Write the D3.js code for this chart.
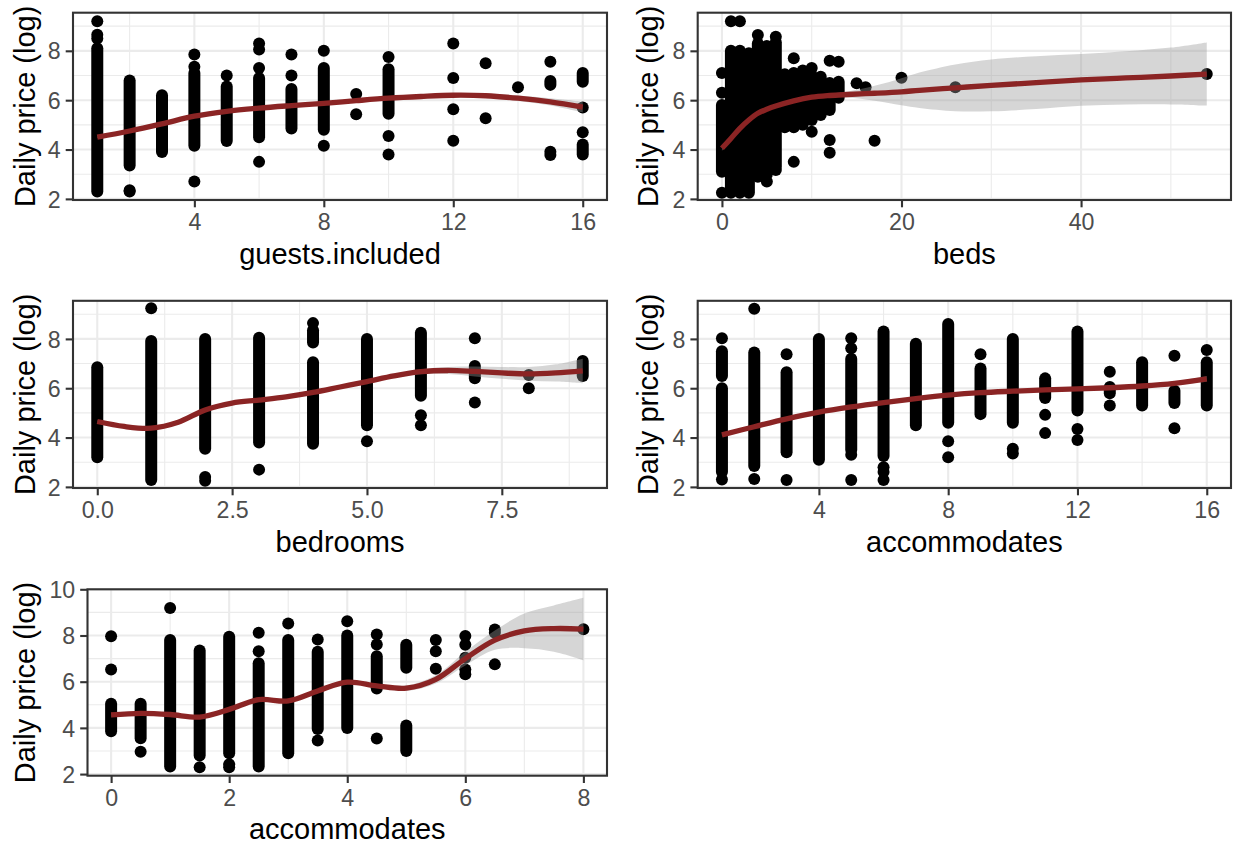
<!DOCTYPE html>
<html><head><meta charset="utf-8">
<script src="https://cdn.jsdelivr.net/npm/d3@7"></script>
<style>body{margin:0;background:#fff}svg{display:block}</style>
</head><body><svg id="c" width="1235" height="845"></svg>
<script>
// ---------- DATA ----------
// runs: [x, low, high] = dense stacks of overlapping points; dots: [x, y] single points
// Panel 1: guests.included
const guestsRuns = [[1,2.3,8.1],[2,3.35,6.8],[3,3.9,6.2],[4,4.15,7.1],[5,4.35,6.55],[6,4.5,6.9],[7,4.85,6.45],[8,4.8,7.3],[10,5.45,7.25],[15,6.62,6.78],[16,6.75,7.1],[16,3.8,4.2]];
const guestsDots = [[1,8.5],[1,8.65],[1,9.2],[2,2.35],[2,2.3],[4,7.85],[4,7.35],[4,2.7],[5,7.0],[6,8.3],[6,8.05],[6,7.3],[6,3.5],[7,7.85],[7,7.0],[8,8.0],[8,4.15],[9,6.25],[9,5.43],[10,7.75],[10,4.55],[10,3.8],[12,8.3],[12,6.9],[12,5.63],[12,4.36],[13,7.5],[13,5.27],[14,6.52],[15,7.56],[15,3.91],[15,3.78],[16,5.7],[16,4.7]];
const guestsFitX = [1,2,3,4,5,6,7,8,9,10,11,12,13,14,15,16];
const guestsFitY = [4.5,4.75,5.04,5.35,5.55,5.68,5.78,5.87,5.98,6.08,6.15,6.2,6.18,6.08,5.93,5.72];
const guestsFitBand = [0.04,0.03,0.03,0.03,0.03,0.03,0.03,0.04,0.05,0.06,0.07,0.08,0.09,0.11,0.15,0.22];

// Panel 2: beds
const bedsRuns = [[0,3.1,5.8],[1,2.25,8.0],[2,2.25,8.0],[3,2.25,7.9],[4,2.9,8.3],[5,3.0,8.2],[6,3.3,8.35],[7,4.9,7.05],[8,4.9,7.1],[9,5.0,7.2],[10,5.2,7.0],[11,5.4,6.95],[12,5.6,6.7],[13,6.1,6.75]];
const bedsDots = [[0,6.3],[0,7.1],[0,2.25],[1,9.2],[2,9.2],[4,8.64],[5,2.7],[6,8.57],[6,3.17],[8,7.7],[8,3.5],[10,7.3],[10,4.72],[12,7.6],[12,4.39],[12,3.87],[13,7.56],[15,6.69],[16,6.52],[17,4.36],[20,6.91],[26,6.52],[54,7.06]];
const bedsFitX = [0,1,2,3,4,5,6,8,10,12,14,17,20,22,26,30,35,40,45,50,54];
const bedsFitY = [4.05,4.45,4.86,5.2,5.47,5.63,5.76,5.97,6.12,6.19,6.23,6.28,6.34,6.4,6.5,6.6,6.71,6.82,6.9,6.98,7.06];
const bedsFitBand = [0.1,0.08,0.06,0.05,0.05,0.05,0.05,0.05,0.05,0.07,0.12,0.3,0.55,0.72,0.95,1.05,1.07,1.05,1.08,1.15,1.28];

// Panel 3: bedrooms
const bedroomsRuns = [[0,3.2,6.85],[1,2.28,7.92],[2,3.55,8.0],[3,3.8,8.05],[4,3.75,7.05],[4,7.85,8.35],[5,4.5,8.0],[6,5.7,8.25],[7,6.4,6.9],[9,6.5,7.1]];
const bedroomsDots = [[1,9.24],[2,2.4],[2,2.25],[3,2.7],[4,8.64],[5,3.85],[6,4.9],[6,4.5],[7,8.03],[7,5.42],[8,6.54],[8,6.0]];
const bedroomsFitX = [0,0.5,1,1.5,2,2.5,3,3.5,4,4.5,5,5.5,6,6.5,7,7.5,8,8.5,9];
const bedroomsFitY = [4.65,4.45,4.38,4.62,5.12,5.4,5.52,5.65,5.83,6.05,6.27,6.5,6.67,6.72,6.68,6.62,6.58,6.62,6.7];
const bedroomsFitBand = [0.05,0.04,0.03,0.04,0.04,0.04,0.04,0.04,0.04,0.04,0.05,0.07,0.1,0.14,0.2,0.24,0.28,0.35,0.5];

// Panel 4: accommodates (1..16)
const accomRuns = [[1,2.6,6.0],[1,6.5,7.5],[2,2.85,7.45],[3,3.4,6.65],[4,3.1,8.0],[5,3.5,7.2],[6,3.25,8.3],[7,4.5,7.8],[8,4.6,8.6],[9,4.95,6.8],[10,4.6,8.0],[11,5.6,6.4],[12,5.1,8.3],[13,5.8,6.05],[14,5.3,7.05],[15,5.4,5.9],[16,5.3,7.05]];
const accomDots = [[1,8.03],[1,2.3],[2,9.22],[2,2.32],[3,7.38],[3,2.28],[5,8.03],[5,7.62],[5,3.3],[5,2.28],[6,2.8],[6,2.6],[6,2.28],[8,3.85],[8,3.2],[9,7.38],[10,3.55],[10,3.35],[11,4.92],[11,4.18],[12,4.35],[12,3.9],[13,6.67],[13,5.3],[15,7.32],[15,4.38],[16,7.55]];
const accomFitX = [1,2,3,4,5,6,7,8,9,10,11,12,13,14,15,16];
const accomFitY = [4.11,4.44,4.76,5.03,5.24,5.42,5.58,5.72,5.82,5.88,5.93,5.97,6.02,6.09,6.2,6.38];
const accomFitBand = [0.06,0.04,0.03,0.03,0.03,0.03,0.03,0.03,0.03,0.04,0.04,0.04,0.05,0.06,0.08,0.12];

// Panel 5: accommodates (0..8)
const accom2Runs = [[0,3.85,5.05],[0.5,3.55,5.05],[1,2.33,7.8],[1.5,2.8,7.35],[2,2.9,7.95],[2.5,2.33,6.8],[3,2.9,7.8],[3.5,3.95,7.3],[4,4.0,8.0],[4.5,5.7,7.1],[5,3.0,4.1],[5,6.6,7.6]];
const accom2Dots = [[0,7.97],[0,6.53],[0.5,2.97],[1,9.19],[1.5,2.3],[2,2.43],[2,2.3],[2.5,8.12],[2.5,7.32],[3,8.52],[3.5,7.83],[3.5,3.45],[4,8.62],[4.5,8.04],[4.5,7.61],[4.5,3.54],[5.5,7.8],[5.5,7.32],[5.5,6.56],[6,7.98],[6,7.6],[6,7.04],[6,6.53],[6,6.32],[6.5,8.26],[6.5,8.12],[6.5,6.75],[8,8.27]];
const accom2FitX = [0,0.5,1,1.5,2,2.5,3,3.5,4,4.5,5,5.5,6,6.5,7,7.5,8];
const accom2FitY = [4.56,4.63,4.58,4.47,4.8,5.22,5.17,5.6,5.98,5.82,5.72,6.1,7.0,7.8,8.2,8.3,8.28];
const accom2FitBand = [0.1,0.06,0.04,0.04,0.04,0.04,0.04,0.05,0.06,0.08,0.12,0.18,0.3,0.42,0.75,1.0,1.35];

// Ticks
const yBreaks = [2,4,6,8];
const yMinor = [3,5,7,9];
const yBreaks5 = [2,4,6,8,10];
const yMinor5 = [3,5,7,9];
const guestsXBreaks = [4,8,12,16], guestsXMinor = [2,6,10,14];
const bedsXBreaks = [0,20,40], bedsXMinor = [10,30,50];
const bedroomsXBreaks = [0,2.5,5,7.5], bedroomsXMinor = [1.25,3.75,6.25,8.75];
const accomXBreaks = [4,8,12,16], accomXMinor = [2,6,10,14];
const accom2XBreaks = [0,2,4,6,8], accom2XMinor = [1,3,5,7];
const yTitle = "Daily price (log)";

// ---------- DRAW ----------
const FONT = "'Liberation Sans', Arial, Helvetica, sans-serif";
const R = 6;
const svg = d3.select("#c");
svg.append("rect").attr("width",1235).attr("height",845).attr("fill","#fff");

const panels = [
  {runs:guestsRuns, dots:guestsDots, fx:guestsFitX, fy:guestsFitY, band:guestsFitBand, xlab:"guests.included",
   xDomain:[0.25,16.75], yDomain:[1.955,9.545], xB:guestsXBreaks, xM:guestsXMinor, yB:yBreaks, yM:yMinor,
   box:{l:73,r:607,t:12.7,b:200}, yTitleX:34.5, fmt:d3.format("d")},
  {runs:bedsRuns, dots:bedsDots, fx:bedsFitX, fy:bedsFitY, band:bedsFitBand, xlab:"beds",
   xDomain:[-2.7,56.7], yDomain:[1.955,9.545], xB:bedsXBreaks, xM:bedsXMinor, yB:yBreaks, yM:yMinor,
   box:{l:697.7,r:1231,t:12.7,b:200}, yTitleX:658, fmt:d3.format("d")},
  {runs:bedroomsRuns, dots:bedroomsDots, fx:bedroomsFitX, fy:bedroomsFitY, band:bedroomsFitBand, xlab:"bedrooms",
   xDomain:[-0.45,9.45], yDomain:[1.955,9.545], xB:bedroomsXBreaks, xM:bedroomsXMinor, yB:yBreaks, yM:yMinor,
   box:{l:73,r:607,t:300.8,b:488}, yTitleX:34.5, fmt:d3.format(".1f")},
  {runs:accomRuns, dots:accomDots, fx:accomFitX, fy:accomFitY, band:accomFitBand, xlab:"accommodates",
   xDomain:[0.25,16.75], yDomain:[1.955,9.545], xB:accomXBreaks, xM:accomXMinor, yB:yBreaks, yM:yMinor,
   box:{l:697.7,r:1231,t:300.8,b:488}, yTitleX:658, fmt:d3.format("d")},
  {runs:accom2Runs, dots:accom2Dots, fx:accom2FitX, fy:accom2FitY, band:accom2FitBand, xlab:"accommodates",
   xDomain:[-0.4,8.4], yDomain:[1.93,10.0], xB:accom2XBreaks, xM:accom2XMinor, yB:yBreaks5, yM:yMinor5,
   box:{l:87.5,r:607,t:589.3,b:775.7}, yTitleX:34.5, fmt:d3.format("d")}
];

function drawPanel(p){
  const b = p.box;
  const x = d3.scaleLinear().domain(p.xDomain).range([b.l,b.r]);
  const y = d3.scaleLinear().domain(p.yDomain).range([b.b,b.t]);
  const g = svg.append("g");
  const clipId = "clip"+Math.round(b.l)+"_"+Math.round(b.t);
  g.append("clipPath").attr("id",clipId).append("rect")
    .attr("x",b.l).attr("y",b.t).attr("width",b.r-b.l).attr("height",b.b-b.t);
  const grid = g.append("g");
  grid.selectAll(null).data(p.xM).enter().append("line")
    .attr("x1",d=>x(d)).attr("x2",d=>x(d)).attr("y1",b.t).attr("y2",b.b)
    .attr("stroke","#EBEBEB").attr("stroke-width",1.1);
  grid.selectAll(null).data(p.yM).enter().append("line")
    .attr("y1",d=>y(d)).attr("y2",d=>y(d)).attr("x1",b.l).attr("x2",b.r)
    .attr("stroke","#EBEBEB").attr("stroke-width",1.1);
  grid.selectAll(null).data(p.xB).enter().append("line")
    .attr("x1",d=>x(d)).attr("x2",d=>x(d)).attr("y1",b.t).attr("y2",b.b)
    .attr("stroke","#EBEBEB").attr("stroke-width",2.1);
  grid.selectAll(null).data(p.yB.filter(v=>v>=p.yDomain[0]&&v<=p.yDomain[1])).enter().append("line")
    .attr("y1",d=>y(d)).attr("y2",d=>y(d)).attr("x1",b.l).attr("x2",b.r)
    .attr("stroke","#EBEBEB").attr("stroke-width",2.1);

  const marks = g.append("g").attr("clip-path","url(#"+clipId+")");
  marks.selectAll(null).data(p.runs).enter().append("rect")
    .attr("x",d=>x(d[0])-R).attr("width",2*R)
    .attr("y",d=>y(d[2])-R).attr("height",d=>y(d[1])-y(d[2])+2*R)
    .attr("rx",R).attr("ry",R).attr("fill","#000");
  marks.selectAll(null).data(p.dots).enter().append("circle")
    .attr("cx",d=>x(d[0])).attr("cy",d=>y(d[1])).attr("r",R).attr("fill","#000");

  const fit = p.fx.map((v,i)=>({x:v, y:p.fy[i], s:p.band[i]}));
  const curve = d3.curveCatmullRom.alpha(0.5);
  marks.append("path").datum(fit)
    .attr("d", d3.area().x(d=>x(d.x)).y0(d=>y(d.y-d.s)).y1(d=>y(d.y+d.s)).curve(curve))
    .attr("fill","#999999").attr("fill-opacity",0.4);
  marks.append("path").datum(fit)
    .attr("d", d3.line().x(d=>x(d.x)).y(d=>y(d.y)).curve(curve))
    .attr("fill","none").attr("stroke","#8B2424").attr("stroke-width",5.3)
    .attr("stroke-linecap","butt").attr("stroke-linejoin","round");

  g.append("rect").attr("x",b.l).attr("y",b.t).attr("width",b.r-b.l).attr("height",b.b-b.t)
    .attr("fill","none").attr("stroke","#333333").attr("stroke-width",2.1);

  const xa = g.append("g").attr("transform","translate(0,"+b.b+")")
    .call(d3.axisBottom(x).tickValues(p.xB).tickFormat(p.fmt).tickSize(7.3).tickPadding(6.2));
  const ya = g.append("g").attr("transform","translate("+b.l+",0)")
    .call(d3.axisLeft(y).tickValues(p.yB).tickFormat(d3.format("d")).tickSize(7.3).tickPadding(5));
  [xa,ya].forEach(a=>{
    a.select(".domain").remove();
    a.selectAll(".tick line").attr("stroke","#333333").attr("stroke-width",2.1);
    a.selectAll(".tick text").attr("fill","#4D4D4D").style("font-family",FONT).style("font-size","23.2px");
  });
  ya.selectAll(".tick text").attr("dy","0.35em");

  g.append("text").attr("x",(b.l+b.r)/2).attr("y",b.b+63.5)
    .attr("text-anchor","middle").style("font-family",FONT).style("font-size","29px")
    .attr("fill","#000").text(p.xlab);
  g.append("text").attr("transform","translate("+p.yTitleX+","+((b.t+b.b)/2)+") rotate(-90)")
    .attr("text-anchor","middle").style("font-family",FONT).style("font-size","29px")
    .attr("fill","#000").text(yTitle);
}
panels.forEach(drawPanel);
</script>
</body></html>
